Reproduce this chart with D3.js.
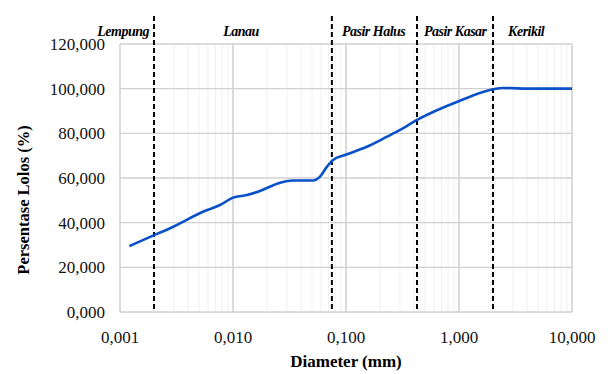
<!DOCTYPE html>
<html>
<head>
<meta charset="utf-8">
<script src="https://cdn.jsdelivr.net/npm/d3@7"></script>
<style>
  body { margin: 0; background: #fff; }
</style>
</head>
<body>
<script>
// grain size distribution (diameter in mm, percent passing)
var diameters = [0.00121, 0.00196, 0.00277, 0.00543, 0.00767, 0.0100, 0.0133, 0.0173, 0.0261, 0.0340,
                 0.0511, 0.0589, 0.0679, 0.0767, 0.102, 0.153, 0.231, 0.301, 0.425, 1.02, 2.0, 2.45, 4.5, 10];
var passing = [29.5, 34.2, 37.5, 44.9, 47.9, 51.2, 52.4, 54.2, 57.9, 58.9,
               58.9, 60.6, 65.1, 68.1, 70.6, 74.0, 78.5, 81.5, 86.0, 94.6, 99.7, 100.3, 100, 100];
var boundaries = [0.002, 0.075, 0.425, 2.0];
var zoneNames = ["Lempung", "Lanau", "Pasir Halus", "Pasir Kasar", "Kerikil"];
var zoneLabelX = [0.00063, 0.0082, 0.092, 0.49, 2.72];
var xTicks = [0.001, 0.01, 0.1, 1, 10];
var yTicks = [0, 20, 40, 60, 80, 100, 120];

var width = 612, height = 374;
var margin = { left: 120, right: 40, top: 44, bottom: 62 };
var serif = "'Liberation Serif', 'Times New Roman', Times, 'DejaVu Serif', serif";

var svg = d3.select("body").append("svg")
    .attr("width", width)
    .attr("height", height)
    .style("font-family", serif);

var x = d3.scaleLog().domain([0.001, 10]).range([margin.left, width - margin.right]);
var y = d3.scaleLinear().domain([0, 120]).range([height - margin.bottom, margin.top]);

var fmt = function(v, digits) { return d3.format("." + digits + "f")(v).replace(".", ","); };

// minor vertical gridlines
var minor = [];
for (var e = -3; e < 1; e++) {
  for (var m = 2; m <= 9; m++) minor.push(m * Math.pow(10, e));
}
svg.selectAll("line.minor").data(minor).enter().append("line")
    .attr("x1", function(d) { return x(d); }).attr("x2", function(d) { return x(d); })
    .attr("y1", y(0)).attr("y2", y(120))
    .attr("stroke", "#f0f0f0").attr("stroke-width", 1);

// major gridlines
svg.selectAll("line.vmaj").data(xTicks).enter().append("line")
    .attr("x1", function(d) { return x(d); }).attr("x2", function(d) { return x(d); })
    .attr("y1", y(0)).attr("y2", y(120))
    .attr("stroke", "#c8c8c8").attr("stroke-width", 1.3);

svg.selectAll("line.hmaj").data(yTicks).enter().append("line")
    .attr("x1", x(0.001)).attr("x2", x(10))
    .attr("y1", function(d) { return y(d); }).attr("y2", function(d) { return y(d); })
    .attr("stroke", "#d0d0d0").attr("stroke-width", 1.3);

// tick labels
svg.selectAll("text.ylab").data(yTicks).enter().append("text")
    .attr("x", 105).attr("y", function(d) { return y(d) + 6; })
    .attr("text-anchor", "end").attr("font-size", 17).attr("fill", "#111")
    .text(function(d) { return fmt(d, 3); });

svg.selectAll("text.xlab").data(xTicks).enter().append("text")
    .attr("x", function(d) { return x(d); }).attr("y", 343)
    .attr("text-anchor", "middle").attr("font-size", 17).attr("fill", "#111")
    .text(function(d) { return fmt(d, 3); });

// axis titles
svg.append("text")
    .attr("x", (x(0.001) + x(10)) / 2).attr("y", 367)
    .attr("text-anchor", "middle").attr("font-size", 17).attr("font-weight", "bold")
    .text("Diameter (mm)");

svg.append("text")
    .attr("transform", "translate(29,200) rotate(-90)")
    .attr("text-anchor", "middle").attr("font-size", 16.5).attr("font-weight", "bold")
    .text("Persentase Lolos (%)");

// zone boundaries
svg.selectAll("line.bound").data(boundaries).enter().append("line")
    .attr("x1", function(d) { return x(d); }).attr("x2", function(d) { return x(d); })
    .attr("y1", 16).attr("y2", y(0))
    .attr("stroke", "#000").attr("stroke-width", 2)
    .attr("stroke-dasharray", "5,3");

svg.selectAll("text.zone").data(zoneNames).enter().append("text")
    .attr("x", function(d, i) { return x(zoneLabelX[i]); }).attr("y", 36)
    .attr("font-size", 14).attr("font-style", "italic").attr("font-weight", "bold")
    .attr("letter-spacing", -0.5)
    .text(function(d) { return d; });

// curve
var line = d3.line()
    .x(function(d, i) { return x(diameters[i]); })
    .y(function(d) { return y(d); })
    .curve(d3.curveMonotoneX);

svg.append("path")
    .datum(passing)
    .attr("d", line)
    .attr("fill", "none")
    .attr("stroke", "#0a50c8")
    .attr("stroke-width", 2.6);
</script>
</body>
</html>
